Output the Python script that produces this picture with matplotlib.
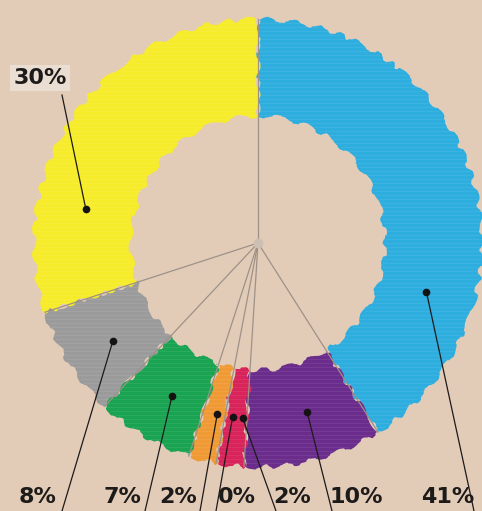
import numpy as np
import matplotlib
matplotlib.use('Agg')
import matplotlib.pyplot as plt

# slices, clockwise from 12 o'clock
labels = ['41%', '10%', '2%', '0%', '2%', '7%', '8%', '30%']
values = [41, 10, 2, 0, 2, 7, 8, 30]
colors = ['#2eaddf', '#6b2d8c', '#d9235b', '#c0c0c0', '#f09a35', '#1aa452', '#9b9b9c', '#f6ec2b']

# where along each slice the marker dot sits, and label placement (pixels)
dot_frac = [0.72, 0.45, 0.2, 0.0, 0.36, 0.45, 0.44, 0.27]
dot_nudge = [0, 0, 0, -2.5, 0, 0, 0, 0]
label_xy = [(448, 497), (356, 497), (292, 497), (237, 497), (178, 497), (122, 497), (38, 497), (40, 78)]
line_end = [(474, 511), (332, 511), (276, 511), (216, 511), (200, 511), (145, 511), (62, 511), (62, 95)]

W, H = 482, 511
cx, cy = 258, 243
r_out, r_in = 224, 127
bg = '#e3ccb7'

fig = plt.figure(figsize=(W / 100, H / 100), dpi=100, facecolor=bg)
ax = fig.add_axes([0, 0, 1, 1])
ax.set_facecolor(bg)

wedges, _ = ax.pie(values, colors=colors, radius=r_out, center=(cx, H - cy),
                   startangle=90, counterclock=False, frame=False,
                   wedgeprops=dict(width=r_out - r_in, edgecolor='none'))
for w in wedges:
    w.set_sketch_params(scale=2.5, length=40, randomness=6)

# faint horizontal crayon streaks, kept inside each slice
for w in wedges:
    for yy in np.arange(H - cy - r_out, H - cy + r_out, 4):
        ln, = ax.plot([0, W], [yy, yy], color='white', lw=0.5, alpha=0.1, zorder=2)
        ln.set_clip_path(w)

def to_xy(angle_cw, r):
    a = np.radians(90 - angle_cw)
    return cx + r * np.cos(a), (H - cy) + r * np.sin(a)

# radial guide lines at each slice boundary
cum = np.concatenate([[0], np.cumsum(values)]) / sum(values) * 360
for ang in np.unique(np.round(cum[:-1], 3)):
    x, y = to_xy(ang, r_out)
    ax.plot([cx, x], [H - cy, y], color='#9d9189', lw=0.9, zorder=3)
ax.plot(cx, H - cy, 'o', ms=6, color='#cdbfb3', zorder=3)

font = ['Liberation Sans Narrow', 'DejaVu Sans']
r_mid = (r_out + r_in) / 2
for i, lab in enumerate(labels):
    ang = cum[i] + dot_frac[i] * (cum[i + 1] - cum[i]) + dot_nudge[i]
    dx, dy = to_xy(ang, r_mid)
    ex, ey = line_end[i]
    ax.plot([dx, ex], [dy, H - ey], color='#1c1a1a', lw=0.9, zorder=4)
    ax.plot(dx, dy, 'o', ms=4.5, color='#151214', zorder=5)
    lx, ly = label_xy[i]
    box = dict(boxstyle='square,pad=0.15', fc='#ede2da', ec='none', alpha=0.8) if i == 7 else None
    ax.text(lx, H - ly, lab, ha='center', va='center', fontsize=16, fontweight='bold',
            family=font, color='#1d1a1a', bbox=box, zorder=6)

ax.set_xlim(0, W)
ax.set_ylim(0, H)
ax.set_aspect('equal')
ax.axis('off')
fig.savefig('out.png', dpi=100, facecolor=bg)
